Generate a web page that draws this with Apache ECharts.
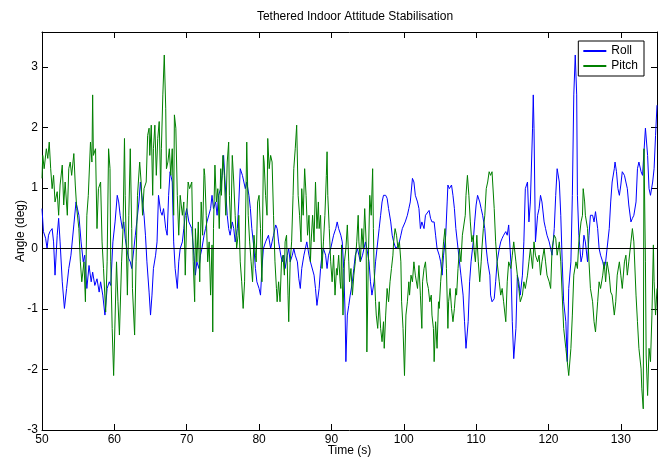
<!DOCTYPE html>
<html>
<head>
<meta charset="utf-8">
<title>Tethered Indoor Attitude Stabilisation</title>
<script src="https://cdn.jsdelivr.net/npm/echarts@6/dist/echarts.min.js"></script>
<style>
  html, body { margin: 0; padding: 0; background: #fff; }
  #chart { width: 663px; height: 462px; }
</style>
</head>
<body>
<div id="chart"></div>
<script>
// values: time (s) and angle (deg)
var rollTime = [50.0, 50.2, 50.5, 50.7, 50.9, 51.1, 51.4, 51.6, 51.8, 52.1, 52.3, 52.5, 52.8, 53.1, 53.4, 53.7, 54.0, 54.4, 54.7, 55.1,
  55.4, 55.7, 55.9, 56.2, 56.5, 56.8, 57.0, 57.3, 57.6, 57.9, 58.1, 58.4, 58.7, 59.0, 59.3, 59.5, 59.8, 60.1, 60.4, 60.6,
  60.8, 61.1, 61.3, 61.5, 61.8, 62.0, 62.2, 62.4, 62.7, 62.9, 63.1, 63.4, 63.6, 63.8, 64.1, 64.3, 64.5, 64.8, 65.0, 65.2,
  65.4, 65.7, 65.9, 66.1, 66.4, 66.6, 66.8, 67.1, 67.3, 67.5, 67.7, 68.0, 68.2, 68.4, 68.7, 68.9, 69.1, 69.4, 69.6, 69.8,
  70.0, 70.3, 70.7, 71.0, 71.2, 71.4, 71.7, 71.9, 72.1, 72.4, 72.6, 72.8, 73.0, 73.3, 73.5, 73.7, 74.0, 74.2, 74.4, 74.7,
  74.9, 75.1, 75.3, 75.6, 75.8, 76.0, 76.3, 76.5, 76.7, 77.0, 77.2, 77.4, 77.7, 77.9, 78.1, 78.3, 78.6, 78.8, 79.0, 79.3,
  79.5, 79.7, 80.0, 80.2, 80.4, 80.6, 80.9, 81.1, 81.3, 81.6, 81.8, 82.0, 82.3, 82.5, 82.7, 83.0, 83.2, 83.4, 83.6, 83.9,
  84.1, 84.3, 84.6, 84.8, 85.0, 85.3, 85.5, 85.7, 85.9, 86.2, 86.4, 86.6, 86.9, 87.1, 87.3, 87.6, 87.8, 88.0, 88.3, 88.5,
  88.7, 88.9, 89.2, 89.4, 89.6, 89.9, 90.1, 90.3, 90.6, 90.8, 91.0, 91.3, 91.5, 91.7, 91.9, 92.0, 92.2, 92.4, 92.6, 92.9,
  93.1, 93.3, 93.6, 93.8, 94.0, 94.3, 94.5, 94.7, 94.9, 95.2, 95.4, 95.6, 95.9, 96.1, 96.3, 96.6, 96.8, 97.0, 97.2, 97.5,
  97.7, 97.9, 98.2, 98.4, 98.6, 98.9, 99.1, 99.3, 99.6, 99.8, 100.0, 100.2, 100.5, 100.7, 100.9, 101.2, 101.4, 101.6, 101.9, 102.1,
  102.3, 102.5, 102.8, 103.0, 103.2, 103.5, 103.7, 103.9, 104.2, 104.4, 104.6, 104.9, 105.1, 105.3, 105.5, 105.8, 106.0, 106.1, 106.3, 106.6,
  106.8, 107.0, 107.2, 107.5, 107.7, 107.9, 108.2, 108.4, 108.6, 108.9, 109.1, 109.3, 109.6, 109.8, 110.0, 110.2, 110.5, 110.7, 110.9, 111.2,
  111.4, 111.6, 111.9, 112.0, 112.2, 112.5, 112.7, 112.9, 113.2, 113.4, 113.6, 113.8, 114.1, 114.3, 114.5, 114.8, 115.0, 115.2, 115.5, 115.7,
  115.9, 116.1, 116.4, 116.6, 116.8, 117.1, 117.3, 117.5, 117.8, 117.9, 118.0, 118.2, 118.5, 118.7, 118.9, 119.1, 119.4, 119.6, 119.8, 120.1,
  120.3, 120.5, 120.8, 121.0, 121.2, 121.5, 121.7, 121.9, 122.1, 122.4, 122.6, 122.8, 123.1, 123.3, 123.5, 123.7, 123.9, 124.0, 124.2, 124.5,
  124.7, 124.9, 125.1, 125.4, 125.6, 125.8, 126.1, 126.3, 126.5, 126.8, 127.0, 127.2, 127.5, 127.7, 127.9, 128.1, 128.4, 128.6, 128.8, 129.1,
  129.2, 129.4, 129.6, 129.8, 130.0, 130.2, 130.5, 130.7, 130.9, 131.1, 131.4, 131.6, 131.8, 132.1, 132.3, 132.5, 132.8, 133.0, 133.2, 133.4,
  133.7, 133.9, 134.1, 134.4, 134.6, 134.8, 135.0];
var rollAngle = [0.66, 0.28, 0.17, 0, 0.22, 0.28, 0.33, 0.11, -0.44, 0.22, 0.50, 0.11, -0.55, -0.99, -0.66, -0.33, -0.11, 0.39, 0.77, 0.55,
  0.11, -0.22, -0.11, -0.66, -0.28, -0.55, -0.39, -0.61, -0.50, -0.72, -0.55, -0.77, -1.10, -0.66, -0.55, -0.61, 0.11, 0.44, 0.88, 0.77,
  0.55, 0.33, 0.44, 0.17, -0.06, -0.17, -0.22, -0.33, 0, 0.22, 0.44, 0.77, 1.10, 0.88, 0.55, 0.22, -0.22, -0.72, -1.10, -0.77,
  -0.33, -0.11, 0.11, 0.88, 0.61, 0.55, 0.66, 0.33, 0.22, 0.88, 1.27, 1.10, 0.11, -0.33, -0.66, -0.22, 0, 0.11, 0.33, 0.55,
  0.66, 0.44, 0.33, -0.11, -0.44, -0.22, -0.33, -0.11, 0, 0.22, 0.33, 0.44, 0.44, 0.66, 0.88, 0.66, 0.77, 0.55, 0.88, 0.99,
  1.21, 1.54, 1.10, 0.55, 0.33, 0.22, 0.44, 0.33, 0.11, 0.33, 0.77, 1.32, 1.21, 1.10, 0.99, 1.10, 0.88, 0.66, 0.33, 0,
  -0.33, -0.55, -0.66, -0.77, -0.33, 0, 0.11, 0.11, 0.22, 0, 0.11, 0.22, 0.39, 0.33, 0.11, -0.11, -0.22, -0.11, -0.33, -0.11,
  0, -0.22, -0.11, 0, -0.11, -0.22, -0.50, -0.66, -0.33, -0.11, 0, 0.11, -0.11, -0.22, -0.22, -0.44, -0.66, -0.94, -0.66, -0.33,
  -0.11, 0, -0.11, -0.33, -0.11, 0, 0.11, 0.22, 0.33, 0.44, 0.33, 0.22, 0.11, -0.33, -1.10, -1.87, -1.10, -0.94, -0.77, -0.55,
  -0.33, -0.11, 0, -0.11, -0.22, -0.11, 0, 0.11, 0, -0.22, -0.55, -0.77, -0.55, -0.22, 0, 0.33, 0.55, 0.77, 0.88, 0.88,
  0.83, 0.66, 0.44, 0.22, 0.11, 0, 0, 0.06, 0.22, 0.33, 0.33, 0.44, 0.55, 0.66, 0.77, 1.16, 1.10, 0.88, 0.77, 0.66,
  0.33, 0.44, 0.33, 0.55, 0.55, 0.63, 0.50, 0.44, 0.44, 0.22, 0, -0.11, -0.22, -0.44, -0.11, 0.22, 0.77, 1.05, 0.99, 1.05,
  0.88, 0.66, 0.33, 0, -0.22, -0.44, -0.77, -1.21, -1.65, -1.21, -0.55, -0.22, 0.11, 0.44, 0.72, 0.88, 0.77, 0.66, 0.55, 0.33,
  0, -0.22, -0.44, -0.77, -0.88, -0.83, -0.55, -0.22, 0, 0.11, 0.17, 0.22, 0.28, 0.22, 0.39, -0.22, -1.21, -1.82, -1.32, -0.44,
  -0.55, -0.77, -0.44, 0.11, 0.99, 1.10, 0.44, 0.77, 1.99, 2.54, 1.99, 0.11, 0.55, 0.66, 0.88, 0.77, 0.44, 0.33, 0.22, 0.11,
  0, -0.11, 0.33, 0.88, 1.32, 1.10, 0.55, -0.22, -0.88, -1.21, -1.87, -0.66, -0.22, 0.88, 2.54, 3.20, 2.54, 0.88, 0.22, -0.22,
  -0.11, 0.22, 0.11, -0.22, 0.22, 0.55, 0.55, 0.44, 0.61, 0.33, 0, -0.11, -0.22, -0.33, -0.22, 0, 0.33, 0.77, 1.10, 1.32,
  1.43, 1.27, 0.99, 0.88, 1.05, 1.27, 1.21, 1.10, 0.99, 0.72, 0.44, 0.50, 0.55, 0.77, 1.32, 1.43, 1.27, 1.21, 1.21, 1.99,
  1.54, 0.99, 0.88, 1.10, 1.32, 1.87, 2.37];

var pitchTime = [50.0, 50.1, 50.3, 50.6, 50.8, 51.0, 51.2, 51.4, 51.6, 51.8, 52.1, 52.3, 52.5, 52.8, 53.0, 53.2, 53.5, 53.7, 53.9, 54.1,
  54.4, 54.6, 54.8, 55.1, 55.3, 55.5, 55.8, 56.0, 56.2, 56.4, 56.7, 56.9, 57.0, 57.1, 57.4, 57.6, 57.8, 58.1, 58.3, 58.5,
  58.8, 59.0, 59.2, 59.4, 59.5, 59.7, 59.9, 60.3, 60.5, 60.7, 61.0, 61.2, 61.4, 61.5, 61.8, 62.0, 62.2, 62.4, 62.5, 62.8,
  63.0, 63.2, 63.5, 63.7, 63.9, 64.1, 64.4, 64.6, 64.8, 64.9, 65.1, 65.3, 65.4, 65.6, 65.8, 66.0, 66.2, 66.4, 66.5, 66.7,
  66.9, 67.1, 67.2, 67.4, 67.6, 67.8, 68.0, 68.2, 68.3, 68.5, 68.7, 68.9, 69.1, 69.4, 69.6, 69.8, 70.0, 70.2, 70.4, 70.7,
  70.9, 71.1, 71.2, 71.4, 71.6, 71.8, 72.0, 72.2, 72.4, 72.5, 72.7, 72.9, 73.1, 73.3, 73.5, 73.6, 73.7, 73.9, 74.1, 74.3,
  74.5, 74.7, 74.8, 75.0, 75.2, 75.4, 75.6, 75.8, 75.9, 76.1, 76.3, 76.5, 76.7, 76.9, 77.1, 77.2, 77.4, 77.6, 77.8, 78.0,
  78.2, 78.3, 78.5, 78.7, 78.9, 79.1, 79.3, 79.5, 79.6, 79.8, 80.0, 80.2, 80.4, 80.6, 80.7, 80.9, 81.1, 81.2, 81.4, 81.6,
  81.8, 82.0, 82.2, 82.4, 82.5, 82.7, 82.9, 83.1, 83.3, 83.5, 83.6, 83.8, 84.0, 84.1, 84.3, 84.5, 84.7, 84.8, 85.0, 85.2,
  85.4, 85.6, 85.8, 85.9, 86.1, 86.3, 86.5, 86.7, 86.9, 87.1, 87.2, 87.4, 87.6, 87.8, 88.0, 88.2, 88.3, 88.5, 88.7, 88.9,
  89.1, 89.3, 89.4, 89.5, 89.7, 89.9, 90.1, 90.3, 90.5, 90.7, 90.8, 91.0, 91.2, 91.3, 91.4, 91.6, 91.8, 92.0, 92.2, 92.4,
  92.5, 92.7, 92.9, 93.1, 93.3, 93.5, 93.7, 93.8, 94.0, 94.2, 94.4, 94.6, 94.8, 94.9, 95.1, 95.3, 95.5, 95.7, 95.8, 95.9,
  96.1, 96.2, 96.4, 96.6, 96.8, 97.0, 97.2, 97.3, 97.5, 97.7, 97.9, 98.1, 98.3, 98.5, 98.6, 98.8, 99.0, 99.2, 99.4, 99.6,
  99.7, 99.9, 100.1, 100.3, 100.5, 100.7, 100.8, 101.0, 101.2, 101.4, 101.6, 101.9, 102.1, 102.3, 102.5, 102.6, 102.8, 103.0, 103.2, 103.4,
  103.6, 103.8, 103.9, 104.1, 104.2, 104.4, 104.6, 104.8, 104.9, 105.1, 105.3, 105.5, 105.7, 105.9, 106.1, 106.2, 106.4, 106.6, 106.8, 107.0,
  107.2, 107.3, 107.5, 107.7, 107.9, 108.1, 108.3, 108.5, 108.6, 108.8, 109.0, 109.2, 109.4, 109.6, 109.7, 109.9, 110.1, 110.3, 110.5, 110.7,
  110.8, 111.0, 111.2, 111.4, 111.6, 111.8, 112.0, 112.2, 112.5, 112.7, 112.9, 113.2, 113.4, 113.6, 113.8, 114.1, 114.3, 114.5, 114.8, 115.0,
  115.2, 115.5, 115.7, 115.9, 116.1, 116.4, 116.6, 116.8, 117.1, 117.3, 117.5, 117.8, 118.0, 118.2, 118.5, 118.7, 118.9, 119.1, 119.4, 119.6,
  119.8, 120.1, 120.3, 120.5, 120.8, 121.0, 121.2, 121.5, 121.7, 121.9, 122.1, 122.4, 122.6, 122.8, 123.1, 123.3, 123.5, 123.8, 124.0, 124.2,
  124.5, 124.7, 124.8, 125.0, 125.1, 125.4, 125.6, 125.8, 126.1, 126.3, 126.5, 126.8, 127.0, 127.2, 127.5, 127.7, 127.9, 128.1, 128.4, 128.6,
  128.8, 129.1, 129.3, 129.5, 129.8, 130.0, 130.2, 130.5, 130.7, 130.9, 131.1, 131.4, 131.6, 131.8, 132.1, 132.3, 132.5, 132.8, 132.9, 133.1,
  133.2, 133.4, 133.5, 133.7, 133.9, 134.1, 134.3, 134.5, 134.6, 134.8, 135.0];
var pitchAngle = [1.16, 1.54, 1.32, 1.65, 1.49, 1.76, 1.32, 0.99, 1.21, 0.77, 0.94, 0.55, 1.05, 1.38, 0.72, 1.10, 0.55, 1.32, 1.43, 1.21,
  1.57, 1.05, 0.66, 0.33, -0.22, -0.55, -0.22, -0.88, 0.55, 0.88, 1.76, 1.43, 2.54, 1.54, 1.65, 0.33, 0.99, 1.10, 0.11, -0.33,
  -1.05, -0.22, 1.65, 1.32, -0.22, -1.32, -2.10, -0.22, -0.88, -1.43, -0.22, 0.33, 1.82, 0.88, -0.77, 0.55, 1.65, 0.33, -0.66, -1.43,
  -0.22, 0.88, 1.43, 1.10, 0.55, 0.99, 1.10, 1.87, 1.99, 1.54, 2.04, 0.88, 1.65, 2.04, 1.21, 1.82, 2.10, 0.99, 1.65, 2.54,
  3.20, 2.32, 1.32, 1.43, 1.65, 1.21, 1.65, 0.55, 2.21, 1.99, 0.88, 0.22, 0.88, 0.55, 0.77, -0.44, 0.55, 1.10, 0.99, 1.10,
  -0.22, -0.88, 0.33, -0.22, 0.44, -0.55, 0.77, 0.22, 1.32, 1.21, 0.55, -0.22, 0.11, -0.77, 0.06, -1.38, 0.33, 1.38, 0.77, 0.99,
  0.33, 1.32, 0.88, 1.54, 1.21, 0.55, 1.43, 1.76, 0.88, 0.33, 1.54, 1.10, 0.55, 0, 0.22, 0.55, -0.22, -0.55, -0.99, -0.55,
  0.99, 1.76, 0.55, 0.11, -0.22, -0.55, 0.22, -0.11, -0.22, 0.77, 0.88, 0.33, -0.55, 1.54, 1.43, 0.88, 0.55, 1.82, 1.32, 1.54,
  1.43, 0.55, -0.22, -0.66, -0.88, -0.55, -0.88, -0.22, -0.11, -0.44, 0.11, 0.22, -0.77, -1.21, -0.22, 0.11, 0.88, 1.32, 1.65, 2.04,
  0.88, 0.55, 0.11, 0.99, 0.55, 1.32, 0.88, 0.22, 0.55, -0.22, 0.11, 0.55, 0.11, 1.10, 0.33, 0.77, 0.33, 0.55, -0.33, 0.11,
  0.55, 1.21, 1.60, 0.88, 0.33, -0.22, -0.55, -0.11, -0.77, -0.33, -0.44, -0.11, -0.55, -0.66, 0.06, -1.10, -0.22, 0, 0.39, -0.22,
  -0.55, -0.33, -0.77, -0.44, -0.22, 0.11, 0.55, 0.11, -0.22, 0.33, 0, 0.66, 0.11, -1.71, -0.22, 0.88, 0.55, 1.32, 0.33, -0.33,
  -0.88, -1.10, -1.32, -0.88, -1.32, -1.54, -1.21, -1.65, -1.10, -0.66, -0.88, -0.55, -0.33, -0.11, 0.11, 0.33, 0.22, 0, 0.11, -0.22,
  -0.88, -1.32, -2.10, -1.10, -0.88, -0.55, -0.77, -0.44, -0.55, -0.22, -0.44, -0.66, -0.28, -0.77, -1.32, -0.55, -0.33, -0.22, -0.55, -0.66,
  -0.88, -0.77, -1.10, -1.32, -1.87, -1.21, -1.65, -0.88, -0.99, -0.55, -0.22, 0.11, 0.33, -0.33, -1.32, -0.88, -0.66, -0.99, -1.21, -0.99,
  -0.66, -0.77, -0.33, 0, -0.22, 0.22, 0.22, 0.55, 0.88, 1.21, 0.88, 0.44, 0.11, 0.22, 0, -0.22, 0.22, -0.22, -0.55, -0.22,
  0, 0.33, 0.55, 0.99, 1.10, 1.27, 1.21, 1.27, 0.66, 0.11, -0.22, -0.55, -0.77, -0.66, -0.88, -1.21, -0.55, -0.22, -0.33, -0.11,
  0.11, -0.22, -0.44, -0.66, -0.88, -0.77, -0.55, -0.66, -0.44, -0.22, 0, -0.33, 0.11, -0.11, -0.22, -0.11, -0.44, -0.22, 0, -0.22,
  -0.44, -0.55, -0.66, 0, 0.22, 0.17, -0.11, 0.11, -0.22, -0.77, -1.32, -1.65, -1.87, -2.10, -1.65, -1.10, -0.44, -0.22, -0.33, 0.11,
  0.44, 0.55, 0.99, 0.77, 0.55, 0.33, -0.22, -0.66, -0.88, -1.21, -1.38, -0.88, -0.55, -0.66, -0.44, -0.22, -0.55, -0.22, -0.44, -0.72,
  -0.77, -1.10, -0.88, -0.44, -0.22, -0.44, -0.66, -0.22, -0.11, -0.44, -0.22, 0.11, 0.33, 0.11, -0.77, -1.21, -1.65, -1.99, -2.32, -2.65,
  1.65, -0.22, -1.76, -2.43, -1.65, -1.87, -1.10, 0.06, -0.55, -1.10, -0.66];

var yTicks = [-3, -2, -1, 0, 1, 2, 3];

function pairs(t, v) {
  return t.map(function (x, i) { return [x, v[i]] })
}

var font = "'Liberation Sans', Arial, sans-serif"

var chart = echarts.init(document.getElementById('chart'))

// axis look shared by the four sides (matlab style box, ticks inside)
function sideAxis(pos, min, max, step, labels) {
  return {
    type: 'value',
    position: pos,
    min: min,
    max: max,
    interval: step,
    axisLine: { show: true, onZero: false, lineStyle: { color: '#000', width: 1 } },
    axisTick: { show: true, inside: true, length: 6, lineStyle: { color: '#000' } },
    axisLabel: {
      show: labels,
      color: '#000',
      fontSize: 12,
      fontFamily: font,
      margin: 4,
      showMaxLabel: false
    },
    splitLine: { show: false }
  }
}

var xBottom = sideAxis('bottom', 50, 135, 10, true)
xBottom.name = 'Time (s)'
xBottom.nameLocation = 'middle'
xBottom.nameGap = 15
xBottom.nameMoveOverlap = false
xBottom.nameTextStyle = { color: '#000', fontSize: 12, fontFamily: font }

var yLeft = sideAxis('left', -3, 3.58, 1, true)
yLeft.name = 'Angle (deg)'
yLeft.nameLocation = 'middle'
yLeft.nameGap = 15
yLeft.nameMoveOverlap = false
yLeft.nameTextStyle = { color: '#000', fontSize: 12, fontFamily: font }
yLeft.axisLabel.formatter = function (v) {
  return yTicks.indexOf(v) >= 0 ? String(v) : ''
}

var option = {
  backgroundColor: '#fff',
  animation: false,
  title: {
    text: 'Tethered Indoor Attitude Stabilisation',
    left: 350,
    top: 6,
    textAlign: 'center',
    textStyle: { color: '#000', fontSize: 12, fontWeight: 'normal', fontFamily: font }
  },
  legend: {
    data: ['Roll', 'Pitch'],
    orient: 'vertical',
    right: 19,
    top: 41,
    icon: 'rect',
    itemWidth: 23,
    itemHeight: 2,
    itemGap: 3,
    padding: [4, 6, 4, 5],
    borderColor: '#000',
    borderWidth: 1,
    backgroundColor: '#fff',
    textStyle: { color: '#000', fontSize: 12, fontFamily: font, padding: [0, 0, 0, 0] }
  },
  grid: {
    left: 42,
    right: 6,
    top: 32,
    bottom: 32,
    containLabel: false,
    outerBoundsMode: 'none'
  },
  xAxis: [xBottom, sideAxis('top', 50, 135, 10, false)],
  yAxis: [yLeft, sideAxis('right', -3, 3.58, 1, false)],
  series: [
    {
      name: 'Roll',
      type: 'line',
      color: '#0000ff',
      showSymbol: false,
      symbol: 'none',
      lineStyle: { width: 1, color: '#0000ff' },
      data: pairs(rollTime, rollAngle)
    },
    {
      name: 'Pitch',
      type: 'line',
      color: '#008000',
      showSymbol: false,
      symbol: 'none',
      lineStyle: { width: 1, color: '#008000' },
      data: pairs(pitchTime, pitchAngle),
      // zero reference line
      markLine: {
        silent: true,
        symbol: 'none',
        label: { show: false },
        lineStyle: { color: '#000', width: 1, type: 'solid' },
        data: [{ yAxis: 0 }]
      }
    }
  ]
}

chart.setOption(option)
</script>
</body>
</html>
